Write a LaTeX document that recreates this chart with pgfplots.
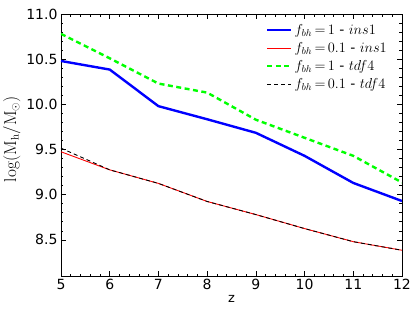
\documentclass[border=0pt]{standalone}
\usepackage{pgfplots}
\pgfplotsset{compat=1.18}
\usepackage[no-math]{fontspec}
\setmainfont{DejaVu Sans}
\begin{document}
\begin{tikzpicture}
\useasboundingbox (-61pt,-41pt) rectangle (354pt,276pt);
\begin{axis}[
  scale only axis, width=341pt, height=262pt,
  xmin=5, xmax=12, ymin=8.1, ymax=11.0,
  xtick={5,...,12}, ytick={8.5,9.0,9.5,10.0,10.5,11.0},
  minor x tick num=4, minor y tick num=4,
  tick align=inside, tick pos=both,
  major tick length=5pt, minor tick length=2.5pt,
  every tick/.style={black, line width=0.6pt},
  axis line style={line width=0.8pt},
  ticklabel style={font=\fontsize{14}{16}\selectfont},
  /pgf/number format/assume math mode=true,
  yticklabel style={/pgf/number format/.cd, fixed, fixed zerofill, precision=1},
  xticklabel style={/pgf/number format/.cd, fixed, precision=0},
  xlabel={z}, xlabel style={font=\fontsize{13}{15}\selectfont, yshift=2pt},
  ylabel={$\log(\mathrm{M_h}/\mathrm{M}_\odot)$},
  ylabel style={font=\fontsize{16}{18}\selectfont, yshift=-1pt, xshift=6pt},
  legend style={at={(1,1)}, anchor=north east, draw=none, fill=none,
    font=\fontsize{14}{16}\selectfont, row sep=2.5pt, xshift=-10pt, yshift=-6pt},
  legend cell align=left,
  legend image code/.code={\draw[#1] (0pt,0pt) -- (24pt,0pt);},
]
\addplot[blue, line width=2.4pt] coordinates {(5,10.48) (6,10.385) (7,9.98) (8,9.835) (9,9.685) (10,9.43) (11,9.13) (12,8.93)};
\addlegendentry{$f_{bh}\,{=}\,1$ - $ins1$}
\addplot[red, line width=0.9pt] coordinates {(5,9.475) (6,9.275) (7,9.125) (8,8.925) (9,8.78) (10,8.625) (11,8.48) (12,8.385)};
\addlegendentry{$f_{bh}\,{=}\,0.1$ - $ins1$}
\addplot[green, line width=2.4pt, dash pattern=on 5pt off 3.5pt] coordinates {(5,10.78) (6,10.51) (7,10.23) (8,10.13) (9,9.83) (10,9.63) (11,9.43) (12,9.135)};
\addlegendentry{$f_{bh}\,{=}\,1$ - $tdf4$}
\addplot[black, line width=0.9pt, dash pattern=on 4pt off 3pt] coordinates {(5,9.515) (6,9.275) (7,9.125) (8,8.925) (9,8.78) (10,8.625) (11,8.48) (12,8.385)};
\addlegendentry{$f_{bh}\,{=}\,0.1$ - $tdf4$}
\end{axis}
\end{tikzpicture}
\end{document}
